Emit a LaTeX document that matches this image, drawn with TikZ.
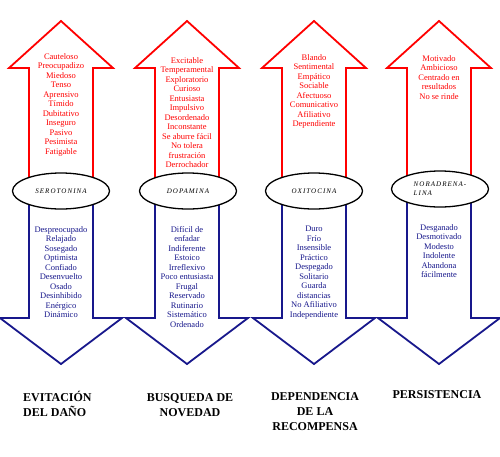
\documentclass[tikz,border=0pt]{standalone}
\usepackage{fontspec}
\setmainfont{Liberation Serif}
\usetikzlibrary{shapes.geometric}
\definecolor{navyblue}{RGB}{24,24,140}
\definecolor{pured}{RGB}{255,0,0}
\begin{document}
\begin{tikzpicture}[x=1pt,y=-1pt,
  uparrow/.style={draw=pured, line width=1.8pt, line join=miter},
  downarrow/.style={draw=navyblue, line width=1.8pt, line join=miter},
  hormone/.style={ellipse, draw=black, line width=1.3pt, fill=white,
    minimum width=97pt, minimum height=36pt, inner sep=0pt,
    font=\fontsize{7}{9}\selectfont\itshape\addfontfeature{LetterSpace=15}},
  redlist/.style={anchor=north, align=center, inner sep=0pt, text=pured,
    font=\fontsize{8.5}{9.5}\selectfont},
  bluelist/.style={anchor=north, align=center, inner sep=0pt, text=navyblue,
    font=\fontsize{8.5}{9.5}\selectfont},
  dimension/.style={anchor=north, inner sep=0pt,
    font=\fontsize{12}{15}\selectfont\bfseries}]
\useasboundingbox (0,0) rectangle (500,456);
\fill[white] (0,0) rectangle (500,456);

\foreach \c in {61,187,314,439}{
  \draw[downarrow] (\c-32,190) -- (\c-32,318) -- (\c-61,318) -- (\c,364)
      -- (\c+61,318) -- (\c+32,318) -- (\c+32,190);
  \draw[uparrow] (\c-32,190) -- (\c-32,68) -- (\c-52,68) -- (\c,21)
      -- (\c+52,68) -- (\c+32,68) -- (\c+32,190);
}

\node[hormone] (sero) at (61,191) {SEROTONINA};
\node[hormone] (dopa) at (188,191) {DOPAMINA};
\node[hormone] (oxi) at (314,191) {OXITOCINA};
\node[hormone, align=left] (nora) at (440,189) {NORADRENA-\\LINA};

\node[redlist] (r1) at (61,53) {Cauteloso\\Preocupadizo\\Miedoso\\Tenso\\Aprensivo\\Tímido\\Dubitativo\\Inseguro\\Pasivo\\Pesimista\\Fatigable};
\node[redlist] (r2) at (187,57) {Excitable\\Temperamental\\Exploratorio\\Curioso\\Entusiasta\\Impulsivo\\Desordenado\\Inconstante\\Se aburre fácil\\No tolera\\frustración\\Derrochador};
\node[redlist] (r3) at (314,54) {Blando\\Sentimental\\Empático\\Sociable\\Afectuoso\\Comunicativo\\Afiliativo\\Dependiente};
\node[redlist] (r4) at (439,55) {Motivado\\Ambicioso\\Centrado en\\resultados\\No se rinde};

\node[bluelist] (b1) at (61,226) {Despreocupado\\Relajado\\Sosegado\\Optimista\\Confiado\\Desenvuelto\\Osado\\Desinhibido\\Enérgico\\Dinámico};
\node[bluelist] (b2) at (187,226) {Difícil de\\enfadar\\Indiferente\\Estoico\\Irreflexivo\\Poco entusiasta\\Frugal\\Reservado\\Rutinario\\Sistemático\\Ordenado};
\node[bluelist] (b3) at (314,226) {Duro\\Frío\\Insensible\\Práctico\\Despegado\\Solitario\\Guarda\\distancias\\No Afiliativo\\Independiente};
\node[bluelist] (b4) at (439,224) {Desganado\\Desmotivado\\Modesto\\Indolente\\Abandona\\fácilmente};

\node[dimension, anchor=north west, align=left] (d1) at (23,391) {EVITACIÓN\\DEL DAÑO};
\node[dimension, align=center] (d2) at (190,393) {BUSQUEDA DE\\NOVEDAD};
\node[dimension, align=center] (d3) at (315,392) {DEPENDENCIA\\DE LA\\RECOMPENSA};
\node[dimension, align=center] (d4) at (437,390) {PERSISTENCIA};
\end{tikzpicture}
\end{document}
